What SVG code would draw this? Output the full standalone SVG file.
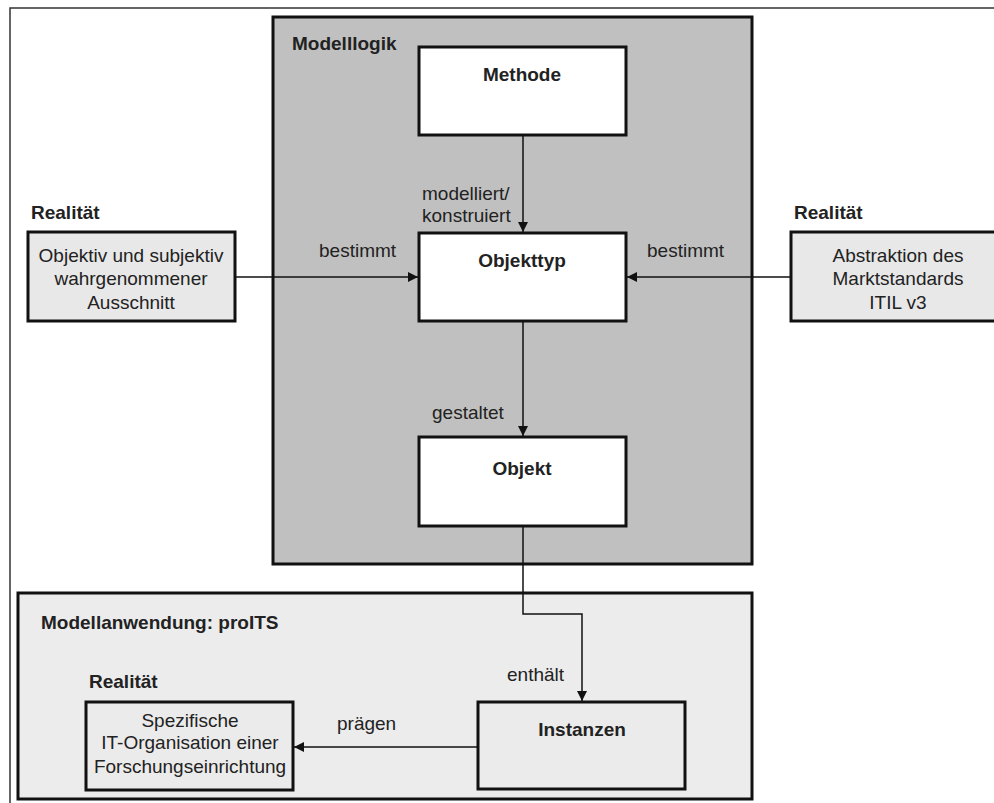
<svg xmlns="http://www.w3.org/2000/svg" width="994" height="803" viewBox="0 0 994 803">
<style>
text{font-family:"Liberation Sans",Arial,sans-serif;font-size:19px;fill:#222}
.b{font-weight:bold}
.box{stroke:#111;stroke-width:3}
.con{fill:none;stroke:#111;stroke-width:1.5}
.c{text-anchor:middle}
</style>
<defs>
<marker id="ah" viewBox="0 0 10 10" refX="10" refY="5" markerWidth="10" markerHeight="10" markerUnits="userSpaceOnUse" orient="auto">
<path d="M0,0 L10,5 L0,10 z" fill="#111"/>
</marker>
</defs>
<rect x="0" y="0" width="994" height="803" fill="#fff"/>
<path d="M10,810 L10,8 L1000,8" fill="none" stroke="#333" stroke-width="1.5"/>
<g id="modelllogik">
<rect class="box" x="273" y="17" width="479" height="547" fill="#c0c0c0"/>
<text class="b" x="292" y="50">Modelllogik</text>
</g>
<g id="modellanwendung">
<rect class="box" x="18" y="593" width="734" height="206" fill="#ececec"/>
<text class="b" x="41" y="629">Modellanwendung: proITS</text>
</g>
<g id="methode">
<rect class="box" x="419" y="47" width="207" height="88" fill="#fff"/>
<text class="b c" x="522" y="81">Methode</text>
</g>
<g id="objekttyp">
<rect class="box" x="419" y="233" width="207" height="88" fill="#fff"/>
<text class="b c" x="522" y="267">Objekttyp</text>
</g>
<g id="objekt">
<rect class="box" x="419" y="437" width="207" height="89" fill="#fff"/>
<text class="b c" x="522" y="475">Objekt</text>
</g>
<g id="realitaet-links">
<text class="b" x="31" y="219">Realität</text>
<rect class="box" x="28" y="232" width="207" height="89" fill="#e8e8e8"/>
<text class="c" x="131" y="262">Objektiv und subjektiv</text>
<text class="c" x="131" y="285">wahrgenommener</text>
<text class="c" x="131" y="309">Ausschnitt</text>
</g>
<g id="realitaet-rechts">
<text class="b" x="794" y="219">Realität</text>
<rect class="box" x="791" y="232" width="220" height="89" fill="#e8e8e8"/>
<text class="c" x="898" y="262">Abstraktion des</text>
<text class="c" x="898" y="285">Marktstandards</text>
<text class="c" x="898" y="309">ITIL v3</text>
</g>
<g id="instanzen">
<rect class="box" x="478" y="702" width="207" height="87" fill="#ebebeb"/>
<text class="b c" x="582" y="736">Instanzen</text>
</g>
<g id="realitaet-unten">
<text class="b" x="89" y="688">Realität</text>
<rect class="box" x="86" y="702" width="207" height="88" fill="#ebebeb"/>
<text class="c" x="190" y="727">Spezifische</text>
<text class="c" x="190" y="749">IT-Organisation einer</text>
<text class="c" x="190" y="773">Forschungseinrichtung</text>
</g>
<g id="connectors">
<path class="con" d="M523,135 L523,232" marker-end="url(#ah)"/>
<path class="con" d="M235,277 L418,277" marker-end="url(#ah)"/>
<path class="con" d="M791,277 L627,277" marker-end="url(#ah)"/>
<path class="con" d="M523,321 L523,436" marker-end="url(#ah)"/>
<path class="con" d="M523,526 L523,614 L582,614 L582,701" marker-end="url(#ah)"/>
<path class="con" d="M478,747 L294,747" marker-end="url(#ah)"/>
<text x="422" y="200">modelliert/</text>
<text x="422" y="222">konstruiert</text>
<text x="319" y="257">bestimmt</text>
<text x="647" y="257">bestimmt</text>
<text x="432" y="419">gestaltet</text>
<text x="507" y="681">enthält</text>
<text x="337" y="730">prägen</text>
</g>
</svg>
